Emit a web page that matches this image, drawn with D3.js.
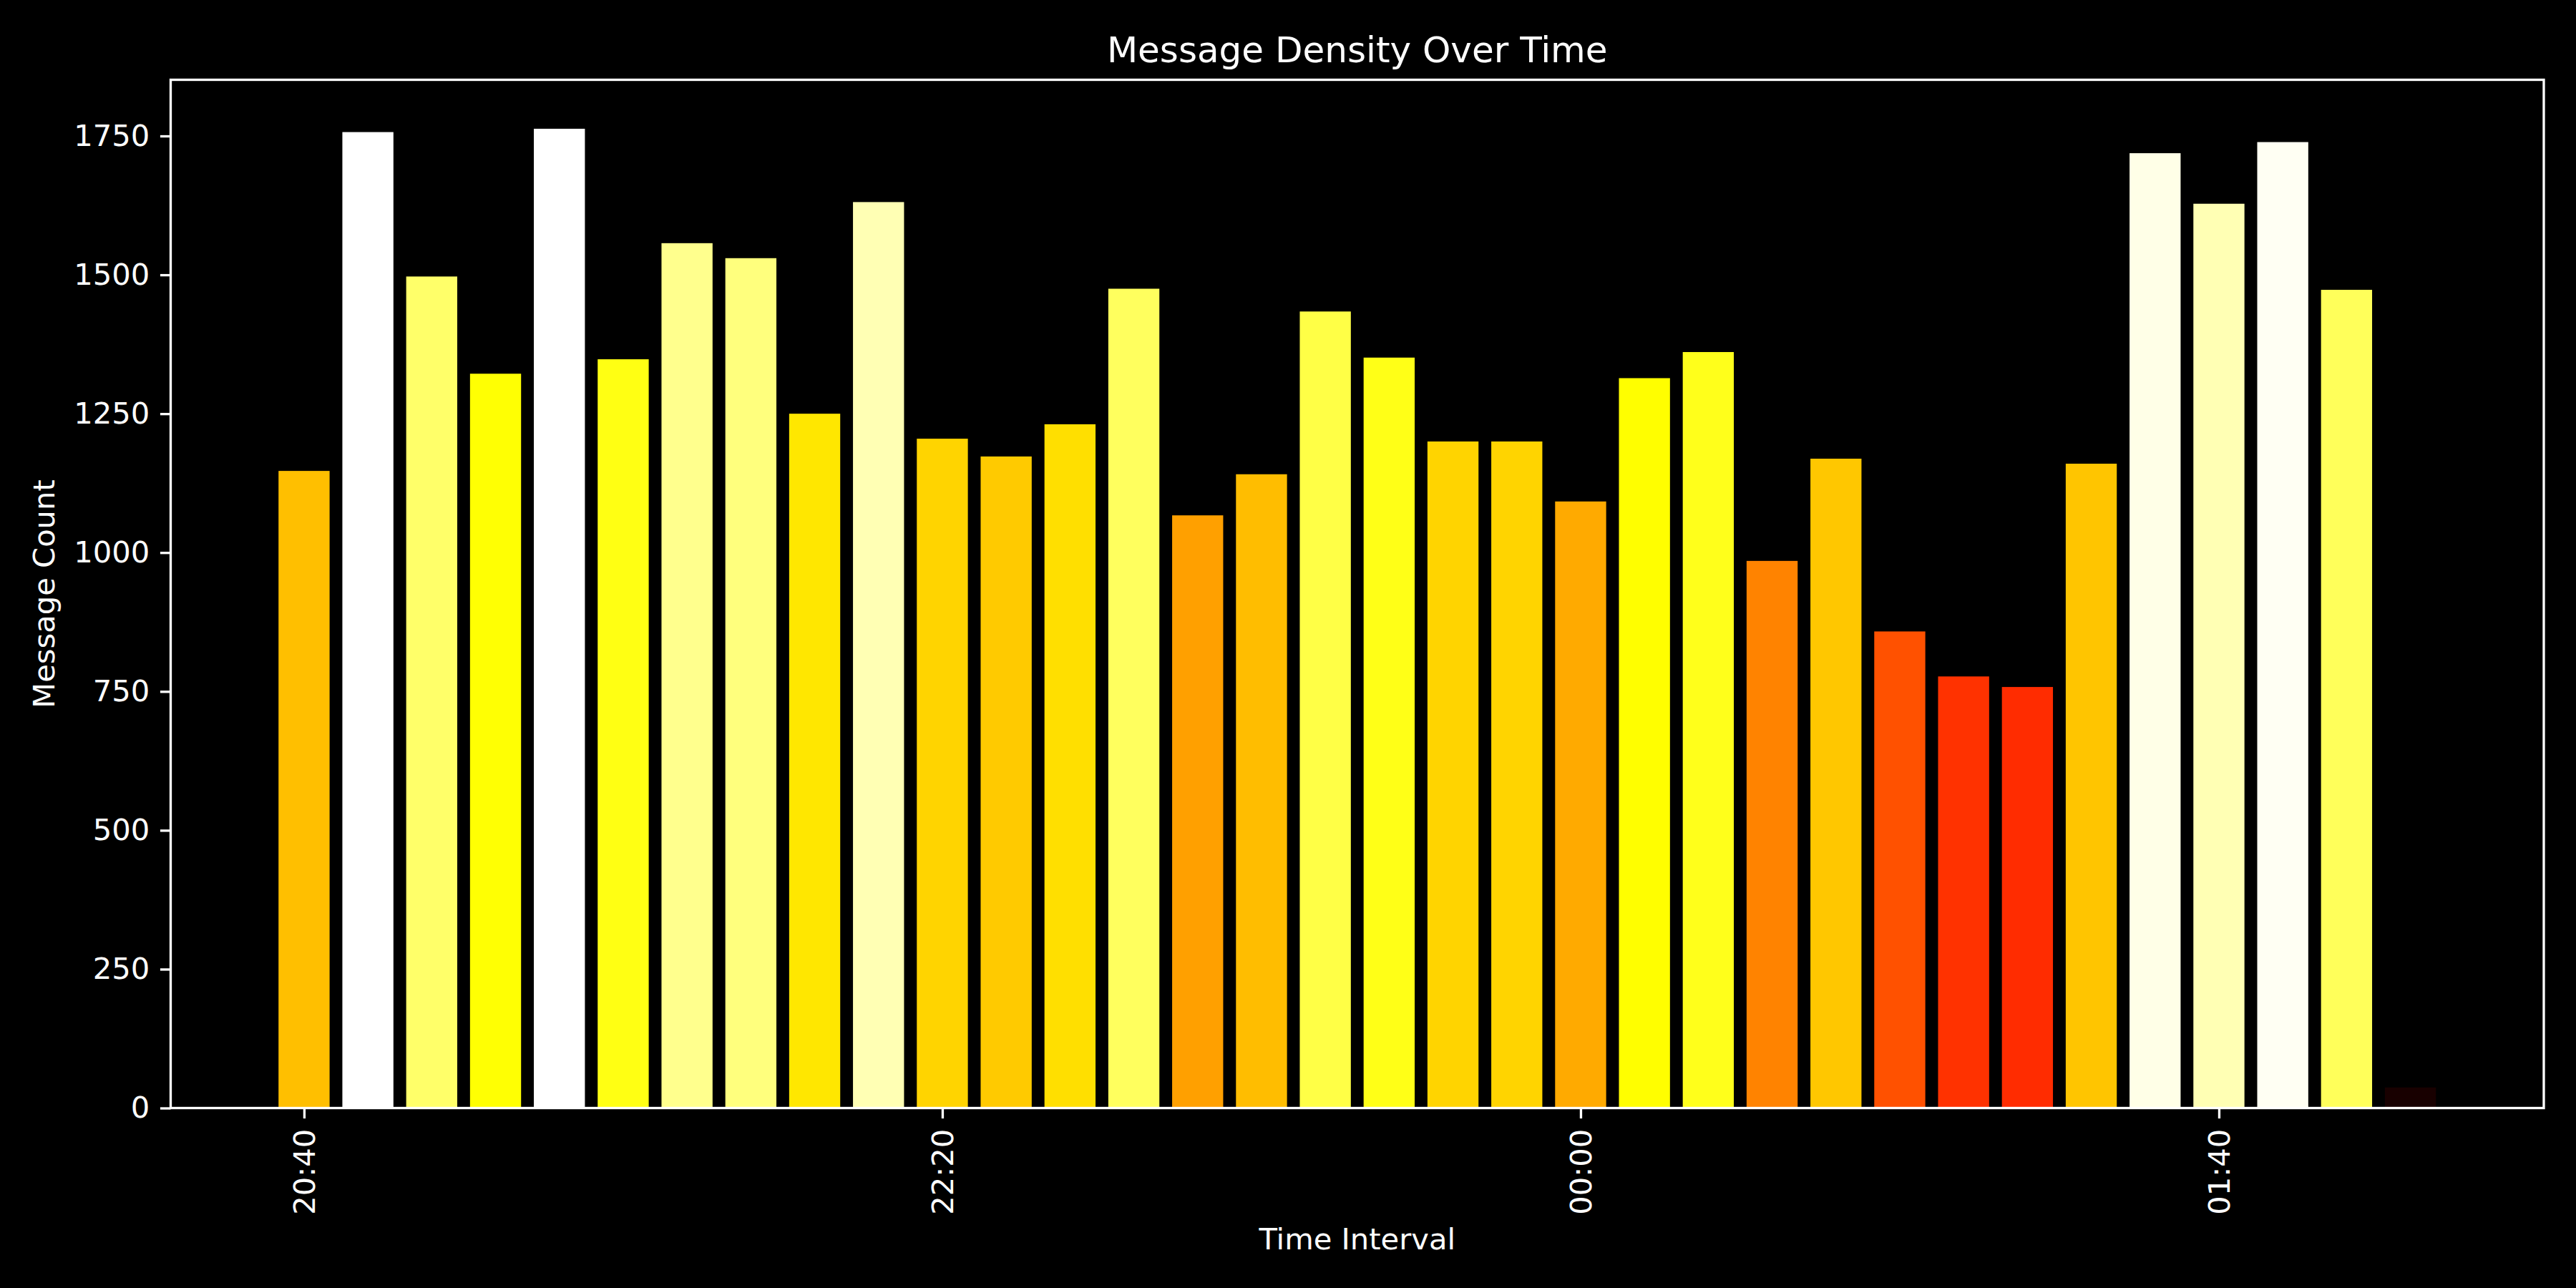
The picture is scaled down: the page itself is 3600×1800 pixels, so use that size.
<!DOCTYPE html>
<html>
<head>
<meta charset="utf-8">
<script src="https://cdn.jsdelivr.net/npm/d3@7"></script>
<style>
  html, body { margin: 0; padding: 0; background: #000; }
  svg { display: block; }
  text { font-family: "DejaVu Sans", sans-serif; fill: #fff; }
</style>
</head>
<body>
<svg id="chart" width="3600" height="1800"></svg>
<script>
// ---- data ----
const times = ["20:40","20:50","21:00","21:10","21:20","21:30","21:40","21:50","22:00","22:10",
               "22:20","22:30","22:40","22:50","23:00","23:10","23:20","23:30","23:40","23:50",
               "00:00","00:10","00:20","00:30","00:40","00:50","01:00","01:10","01:20","01:30",
               "01:40","01:50","02:00","02:10"];
const counts = [1147, 1757, 1497, 1322, 1763, 1348, 1557, 1530, 1250, 1631,
                1205, 1173, 1231, 1475, 1067, 1141, 1434, 1351, 1200, 1200,
                1092, 1314, 1361, 985, 1169, 858, 777, 758, 1160, 1719,
                1628, 1739, 1473, 37];
const xTickLabels = ["20:40", "22:20", "00:00", "01:40"];
const yTickValues = [0, 250, 500, 750, 1000, 1250, 1500, 1750];
const title = "Message Density Over Time";
const xLabel = "Time Interval";
const yLabel = "Message Count";

// ---- helpers ----
function toDate(s) {
  const [h, m] = s.split(":").map(Number);
  const day = h < 12 ? 2 : 1; // after midnight -> next day
  return new Date(2024, 0, day, h, m);
}
// matplotlib 'hot' colormap (256-entry LUT)
function hot(t) {
  let i = Math.floor(t * 256); if (i > 255) i = 255; if (i < 0) i = 0;
  const v = i / 255;
  const r = v < 0.365079 ? 0.0416 + (1 - 0.0416) * v / 0.365079 : 1;
  const g = v < 0.365079 ? 0 : (v < 0.746032 ? (v - 0.365079) / (0.746032 - 0.365079) : 1);
  const b = v < 0.746032 ? 0 : (v - 0.746032) / (1 - 0.746032);
  return d3.rgb(Math.round(r * 255), Math.round(g * 255), Math.round(b * 255)).toString();
}

const data = times.map((t, i) => ({ t: toDate(t), v: counts[i] }));

// ---- layout ----
const L = 238.5, R = 3555, T = 111.5, B = 1548.5;
const svg = d3.select("#chart");
svg.append("rect").attr("width", 3600).attr("height", 1800).attr("fill", "#000");

const step = 10 * 60 * 1000;
const first = data[0].t.getTime(), last = data[data.length - 1].t.getTime();
const span = (last + 0.4 * step) - (first - 0.4 * step);
const x = d3.scaleTime()
  .domain([new Date(first - 0.4 * step - 0.05 * span), new Date(last + 0.4 * step + 0.05 * span)])
  .range([L, R]);
const maxV = d3.max(counts);
const y = d3.scaleLinear().domain([0, maxV * 1.05]).range([B, T]);

// bars
svg.append("g").selectAll("rect").data(data).enter().append("rect")
  .attr("x", d => x(new Date(d.t.getTime() - 0.4 * step)))
  .attr("width", d => x(new Date(d.t.getTime() + 0.4 * step)) - x(new Date(d.t.getTime() - 0.4 * step)))
  .attr("y", d => y(d.v))
  .attr("height", d => B - y(d.v))
  .attr("fill", d => hot(d.v / maxV));

// axes
const fs = 41.67;
const yAxis = d3.axisLeft(y).tickValues(yTickValues).tickSize(14.6).tickPadding(14.6).tickFormat(d3.format("d"));
const gy = svg.append("g").attr("transform", `translate(${L},0)`).call(yAxis);
gy.select(".domain").remove();
gy.selectAll(".tick line").attr("stroke", "#fff").attr("stroke-width", 3.33);
gy.selectAll(".tick text").attr("font-size", fs).attr("fill", "#fff")
  .attr("font-family", "DejaVu Sans");

const xAxis = d3.axisBottom(x).tickValues(xTickLabels.map(toDate)).tickSize(14.6).tickPadding(14.6)
  .tickFormat(d3.timeFormat("%H:%M"));
const gx = svg.append("g").attr("transform", `translate(0,${B})`).call(xAxis);
gx.select(".domain").remove();
gx.selectAll(".tick line").attr("stroke", "#fff").attr("stroke-width", 3.33);
gx.selectAll(".tick text").attr("font-size", fs).attr("fill", "#fff")
  .attr("font-family", "DejaVu Sans")
  .attr("text-anchor", "end")
  .attr("dy", "0.35em")
  .attr("transform", "translate(0,29.2) rotate(-90)")
  .attr("x", 0).attr("y", 0);

// frame
svg.append("rect").attr("x", L).attr("y", T).attr("width", R - L).attr("height", B - T)
  .attr("fill", "none").attr("stroke", "#fff").attr("stroke-width", 3.33);

// labels
svg.append("text").attr("x", (L + R) / 2).attr("y", 87).attr("text-anchor", "middle")
  .attr("font-size", 50).text(title);
svg.append("text").attr("x", (L + R) / 2).attr("y", 1746).attr("text-anchor", "middle")
  .attr("font-size", fs).text(xLabel);
svg.append("text").attr("transform", `translate(75.5,${(T + B) / 2}) rotate(-90)`)
  .attr("text-anchor", "middle").attr("font-size", fs).text(yLabel);
</script>
</body>
</html>
